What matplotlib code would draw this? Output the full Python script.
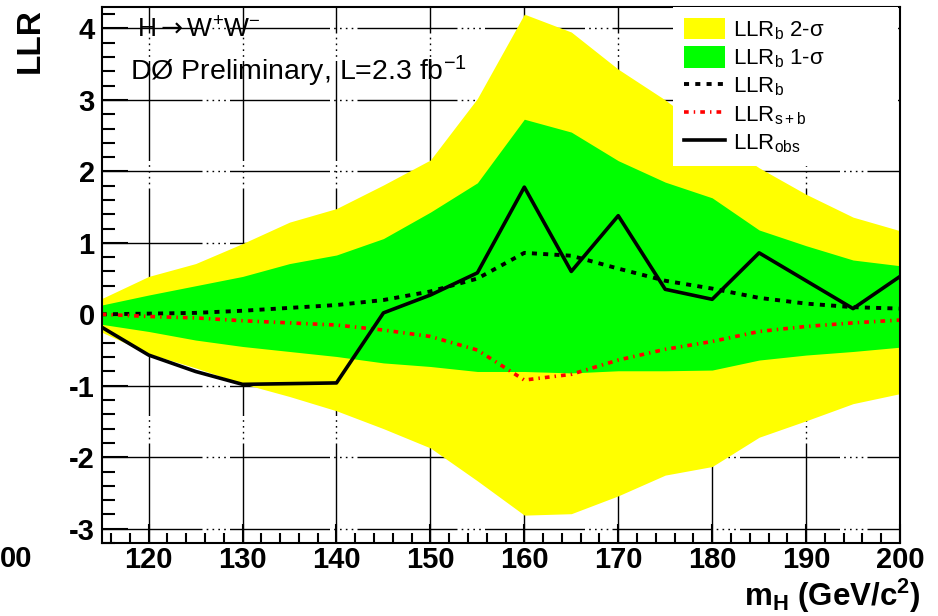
import matplotlib
matplotlib.use("Agg")
import matplotlib.pyplot as plt
from matplotlib.ticker import MultipleLocator

plt.rcParams['font.family'] = ['Liberation Sans', 'DejaVu Sans']
plt.rcParams['mathtext.fontset'] = 'custom'
plt.rcParams['mathtext.rm'] = 'Liberation Sans'
plt.rcParams['mathtext.it'] = 'Liberation Sans:italic'
plt.rcParams['mathtext.bf'] = 'Liberation Sans:bold'
plt.rcParams['mathtext.sf'] = 'Liberation Sans'
plt.rcParams['mathtext.cal'] = 'DejaVu Sans'
plt.rcParams['axes.unicode_minus'] = False

# Higgs mass points (GeV/c^2)
mass = [115, 120, 125, 130, 135, 140, 145, 150, 155, 160,
        165, 170, 175, 180, 185, 190, 195, 200]

# expected background-only LLR and its 1/2 sigma bands
llr_b = [0.0, 0.01, 0.02, 0.05, 0.09, 0.13, 0.2, 0.32, 0.5, 0.86,
         0.82, 0.64, 0.47, 0.36, 0.23, 0.15, 0.1, 0.08]
one_sig_hi = [0.13, 0.27, 0.4, 0.53, 0.71, 0.83, 1.06, 1.43, 1.84, 2.73,
              2.55, 2.15, 1.85, 1.63, 1.18, 0.96, 0.76, 0.68]
one_sig_lo = [-0.14, -0.24, -0.36, -0.45, -0.52, -0.59, -0.68, -0.73, -0.8, -0.8,
              -0.82, -0.79, -0.79, -0.78, -0.64, -0.57, -0.52, -0.46]
two_sig_hi = [0.22, 0.53, 0.71, 0.99, 1.29, 1.48, 1.81, 2.16, 3.02, 4.2,
              3.95, 3.43, 3.0, 2.5, 2.05, 1.68, 1.36, 1.17]
two_sig_lo = [-0.25, -0.55, -0.75, -0.97, -1.15, -1.35, -1.6, -1.87, -2.33, -2.81,
              -2.79, -2.54, -2.25, -2.13, -1.72, -1.49, -1.25, -1.11]

# signal+background expectation and observed
llr_sb = [0.0, -0.03, -0.05, -0.09, -0.12, -0.15, -0.22, -0.31, -0.5, -0.92,
          -0.84, -0.64, -0.49, -0.38, -0.24, -0.17, -0.12, -0.08]
llr_obs = [-0.18, -0.57, -0.8, -0.98, -0.97, -0.96, 0.02, 0.27, 0.58, 1.78,
           0.6, 1.38, 0.35, 0.21, 0.86, 0.47, 0.08, 0.53]

fig = plt.figure(figsize=(9.38, 6.16), dpi=100)
ax = fig.add_axes([0.1084, 0.1185, 0.8511, 0.8701])
ax.set_axisbelow(True)

h2 = ax.fill_between(mass, two_sig_lo, two_sig_hi, color='#ffff00', lw=0,
                     label='LLR$_\\mathrm{b}$ 2-σ')
h1 = ax.fill_between(mass, one_sig_lo, one_sig_hi, color='#00ff00', lw=0,
                     label='LLR$_\\mathrm{b}$ 1-σ')
hb, = ax.plot(mass, llr_b, color='k', lw=2.8, linestyle=(0, (1.3, 1.6)),
              label='LLR$_\\mathrm{b}$')
hsb, = ax.plot(mass, llr_sb, color='#ff0000', lw=2.6,
               linestyle=(0, (1.3, 1.4, 0.4, 1.4)), label='LLR$_\\mathrm{s+b}$')
hobs, = ax.plot(mass, llr_obs, color='k', lw=2.6, label='LLR$_\\mathrm{obs}$')

ax.set_xlim(115, 200)
ax.set_ylim(-3.2, 4.3)
ax.xaxis.set_major_locator(MultipleLocator(10))
ax.xaxis.set_minor_locator(MultipleLocator(2))
ax.yaxis.set_major_locator(MultipleLocator(1))
ax.yaxis.set_minor_locator(MultipleLocator(0.2))

ax.grid(True, which='major', color='k', lw=1.0,
        linestyle=(0, (72, 3, 1.2, 3, 1.2, 3, 1.2, 3, 1.2, 3)))
for s in ax.spines.values():
    s.set_linewidth(1.5)

ax.tick_params(which='both', direction='in', width=1.5, labelsize=21)
ax.tick_params(axis='x', which='major', length=14, pad=2)
ax.tick_params(axis='x', which='minor', length=7)
ax.tick_params(axis='y', which='major', length=19, pad=5)
ax.tick_params(axis='y', which='minor', length=9.5)
plt.setp(ax.get_xticklabels() + ax.get_yticklabels(), fontweight='bold')

ax.text(0.044, 0.957, 'H$\\mathcal{\\rightarrow}$W$^{+}$W$^{-}$',
        transform=ax.transAxes, fontsize=19, va='center')
ax.text(0.0355, 0.879, 'DØ Preliminary, L=2.3 fb$^{-1}$', transform=ax.transAxes,
        fontsize=20.5, va='center')

ax.legend(handles=[h2, h1, hb, hsb, hobs], loc='upper left',
          bbox_to_anchor=(0.7157, 0, 0.2823, 1.0), mode='expand',
          borderaxespad=0, fancybox=False, edgecolor='none', facecolor='white',
          framealpha=1, fontsize=16, handlelength=1.85, handleheight=1.1,
          handletextpad=0.35, labelspacing=0.2, borderpad=0.5)

fig.text(30 / 938, 1 - 8 / 616, 'LLR', rotation=90, ha='center', va='top',
         fontsize=24, fontweight='bold')
fig.text(0.981, 0.017, 'm$_\\mathbf{H}$ (GeV/c$^\\mathbf{2}$)', ha='right',
         va='baseline', fontsize=22.5, fontweight='bold')
fig.text(0.0, 1 - 545 / 616, '00', ha='left', va='top', fontsize=21,
         fontweight='bold')

fig.savefig('out.png', dpi=100)
